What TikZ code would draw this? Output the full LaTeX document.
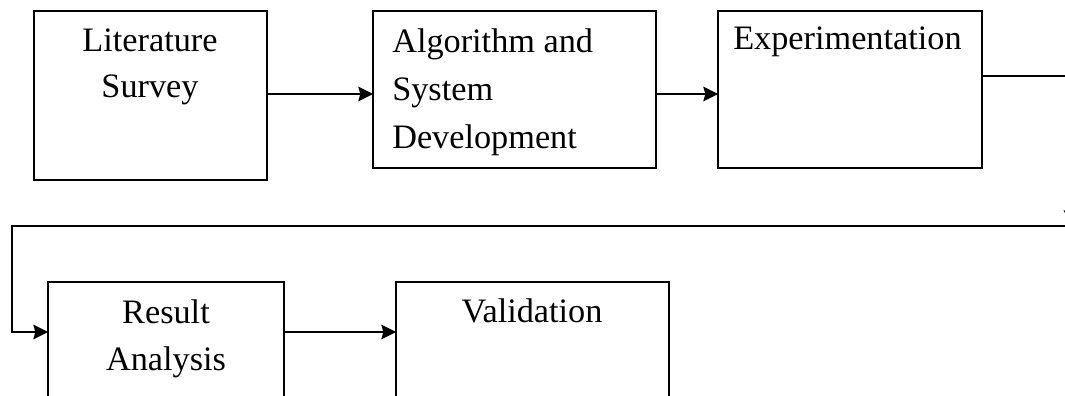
\documentclass[tikz,border=0pt]{standalone}
\usepackage{fontspec}
\setmainfont{Liberation Serif}
\usetikzlibrary{arrows.meta}
\tikzset{
  box/.style={draw=black, line width=1.2pt, rectangle, inner sep=0pt, outer sep=0pt},
  conn/.style={draw=black, line width=1.1pt},
  arr/.style={conn, -{Stealth[length=11pt,width=11pt,inset=1.5pt]}},
  lbl/.style={inner sep=0pt, font=\fontsize{25.7pt}{35pt}\selectfont},
}
\begin{document}
\begin{tikzpicture}[x=0.75pt, y=-0.75pt]
\useasboundingbox (0,0) rectangle (1065,396);
\clip (0,0) rectangle (1065,396);

% process boxes
\node[box, minimum width=174.75pt, minimum height=126.75pt] (b1) at (150.5,95.5) {};
\node[box, minimum width=212.25pt, minimum height=117.75pt] (b2) at (514.5,89.5) {};
\node[box, minimum width=198pt,    minimum height=117.75pt] (b3) at (850,89.5) {};
\node[box, minimum width=177pt,    minimum height=118.5pt]  (b4) at (166,361) {};
\node[box, minimum width=204.75pt, minimum height=118.5pt]  (b5) at (532.5,361) {};

% box texts (base anchor sits on the last line)
\node[lbl, anchor=base, align=center, font=\fontsize{25.7pt}{34pt}\selectfont] (t1) at (150,97) {Literature\\Survey};
\node[lbl, anchor=base west, align=left, font=\fontsize{25.7pt}{36pt}\selectfont] (t2) at (392,148) {Algorithm and\\System\\Development};
\node[lbl, anchor=base west] (t3) at (733,50) {Experimentation};
\node[lbl, anchor=base, align=center] (t4) at (166,370) {Result\\Analysis};
\node[lbl, anchor=base] (t5) at (532,322) {Validation};

% routing points
\coordinate (r1) at (1071,76);
\coordinate (r2) at (1071,225);
\coordinate (r3) at (1075,226);
\coordinate (l1) at (12,226);
\coordinate (l2) at (12,332);
\coordinate (m1) at (0,94);

% connectors
\draw[arr] (b1.east |- m1) -- (b2.west |- m1);
\draw[arr] (b2.east |- m1) -- (b3.west |- m1);
\draw[arr] (b3.east |- r1) -- (r1) -- (r2);
\draw[arr] (r3) -- (l1) -- (l2) -- (b4.west |- l2);
\draw[arr] (b4.east |- l2) -- (b5.west |- l2);
\end{tikzpicture}
\end{document}
